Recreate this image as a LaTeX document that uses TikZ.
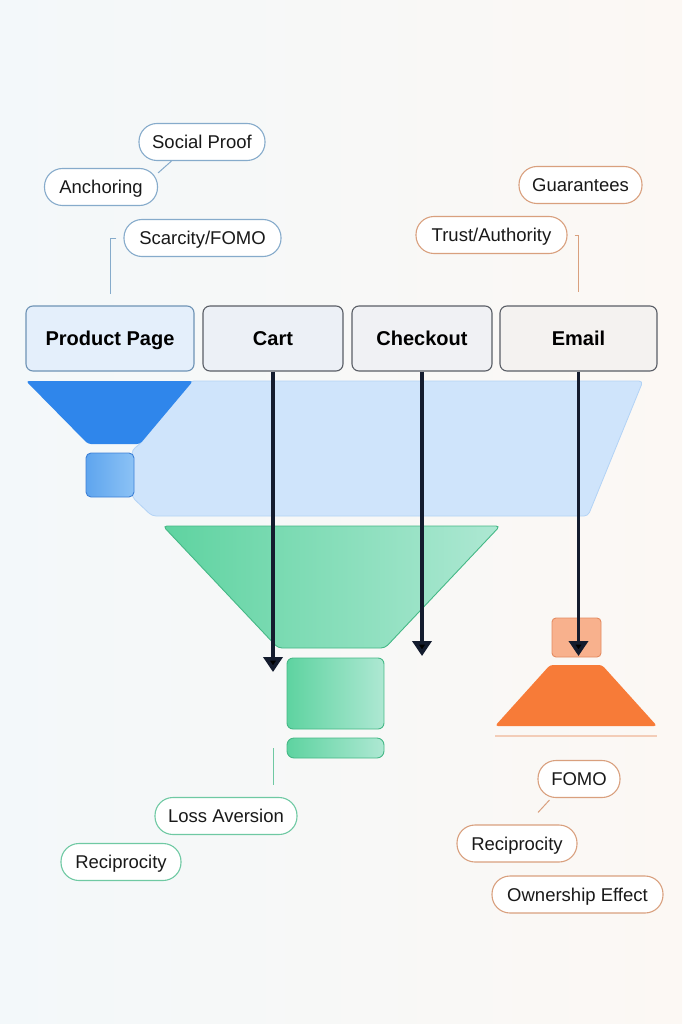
\documentclass[tikz,border=0pt]{standalone}
\usepackage{fontspec}
\setmainfont{Liberation Sans}
\usetikzlibrary{arrows.meta,positioning,shapes}

\definecolor{ink}{HTML}{141C2E}
\definecolor{bgl}{HTML}{F3F8FA}
\definecolor{bgr}{HTML}{FCF8F4}
\definecolor{lblue}{HTML}{CFE4FB}
\definecolor{lblueedge}{HTML}{B3D3F5}
\definecolor{dblue}{HTML}{2F86EB}
\definecolor{sqblueA}{HTML}{5EA5EE}
\definecolor{sqblueB}{HTML}{8CC2F5}
\definecolor{sqblueedge}{HTML}{3D80D6}
\definecolor{greenA}{HTML}{5ED3A0}
\definecolor{greenB}{HTML}{AEE8D3}
\definecolor{greenedge}{HTML}{45B886}
\definecolor{orsq}{HTML}{F8B18D}
\definecolor{orsqedge}{HTML}{E48B60}
\definecolor{orange}{HTML}{F77B38}
\definecolor{orline}{HTML}{F3CDB8}
\definecolor{bluepill}{HTML}{86ABCB}
\definecolor{orpill}{HTML}{D9A07E}
\definecolor{grpill}{HTML}{6FC9A3}
\definecolor{ppfill}{HTML}{E4EFFB}
\definecolor{ppedge}{HTML}{6E93B5}
\definecolor{cartfill}{HTML}{ECF0F6}
\definecolor{chkfill}{HTML}{F0F1F4}
\definecolor{emfill}{HTML}{F4F2F0}
\definecolor{boxedge}{HTML}{5A5E66}

\begin{document}
\begin{tikzpicture}[x=1pt,y=-1pt,>={Triangle[width=19pt,length=15pt]},thin]
\tikzstyle{pill}=[draw,fill=white,rounded corners=18pt,minimum height=37pt,inner sep=0pt,text height=16pt,text depth=3pt,line width=1.1pt,text=black!90,font=\fontsize{18.5}{21}\selectfont]
\tikzstyle{stage}=[draw=boxedge,rounded corners=7pt,minimum height=65pt,inner sep=0pt,text height=18pt,text depth=4pt,line width=1.1pt,font=\fontsize{20}{24}\selectfont\bfseries]

\useasboundingbox (0,0) rectangle (682,1024);
\shade[left color=bgl,right color=bgr] (0,0) rectangle (682,1024);

% funnel levels
\filldraw[fill=lblue,draw=lblueedge,line width=0.8pt,rounded corners=4pt]
  (190,381) -- (643,381) -- (588,516) -- (152,516) -- (132,497) -- (132,450) -- (140,444) -- cycle;
\fill[dblue,rounded corners=3pt] (26,381) -- (193,381) -- (140,444) -- (88,444) -- cycle;
\shade[left color=sqblueA,right color=sqblueB,draw=sqblueedge,line width=0.9pt,rounded corners=5pt] (86,453) rectangle (134,497);
\shade[left color=greenA,right color=greenB,draw=greenedge,line width=0.9pt,rounded corners=4pt]
  (163,526) -- (500,526) -- (385,648) -- (278,648) -- cycle;
\shade[left color=greenA,right color=greenB,draw=greenedge,line width=0.9pt,rounded corners=6pt] (287,658) rectangle (384,729);
\shade[left color=greenA,right color=greenB,draw=greenedge,line width=0.9pt,rounded corners=7pt] (287,738) rectangle (384,758);
\filldraw[fill=orsq,draw=orsqedge,line width=0.9pt,rounded corners=4pt] (552,618) rectangle (601,657);
\fill[orange,rounded corners=3pt] (550,665) -- (602,665) -- (657,726) -- (495,726) -- cycle;
\draw[orline,line width=1.2pt] (495,736) -- (657,736);

% stages
\node[stage,fill=ppfill,draw=ppedge,minimum width=168pt] (pp) at (110,338.5) {Product Page};
\node[stage,fill=cartfill,minimum width=140pt] (cart) at (273,338.5) {Cart};
\node[stage,fill=chkfill,minimum width=140pt] (chk) at (422,338.5) {Checkout};
\node[stage,fill=emfill,minimum width=157pt] (em) at (578.5,338.5) {Email};

\coordinate (c1) at (273,672);
\coordinate (c2) at (422,656);
\coordinate (c3) at (578.5,656);

% biases
\node[pill,draw=bluepill,minimum width=126pt] (sp) at (202,142) {Social Proof};
\node[pill,draw=bluepill,minimum width=113pt] (an) at (101,187) {Anchoring};
\node[pill,draw=bluepill,minimum width=157pt] (sc) at (202.5,238) {Scarcity/FOMO};
\node[pill,draw=orpill,minimum width=123pt] (gu) at (580.5,185) {Guarantees};
\node[pill,draw=orpill,minimum width=151pt] (tr) at (491.5,235) {Trust/Authority};
\node[pill,draw=grpill,minimum width=142pt] (la) at (226,816) {Loss Aversion};
\node[pill,draw=grpill,minimum width=120pt] (rg) at (121,862) {Reciprocity};
\node[pill,draw=orpill,minimum width=82pt] (fo) at (579,779) {FOMO};
\node[pill,draw=orpill,minimum width=120pt] (ro) at (517,843.5) {Reciprocity};
\node[pill,draw=orpill,minimum width=171pt] (ow) at (577.5,894.5) {Ownership Effect};

\coordinate (lt) at (273,748);

\draw[bluepill,line width=1pt] ([shift={(0,5)}]an.north east) -- ([shift={(33,0)}]sp.south west);
\draw[bluepill,line width=1pt] ([xshift=-7pt]sc.west) -| ([yshift=11pt]pp.north);
\draw[orpill,line width=1pt] ([xshift=7pt]tr.east) -| ([yshift=13pt]em.north);
\draw[grpill,line width=1pt] (lt) -- ([yshift=12pt]la.north -| lt);
\draw[orpill,line width=1pt] ([shift={(12,2)}]fo.south west) -- ([shift={(21,-12)}]ro.north);

\path[->,draw=ink,line width=3.6pt]
(cart) edge (c1)
(chk) edge (c2)
(em) edge (c3)
;
\end{tikzpicture}
\end{document}
